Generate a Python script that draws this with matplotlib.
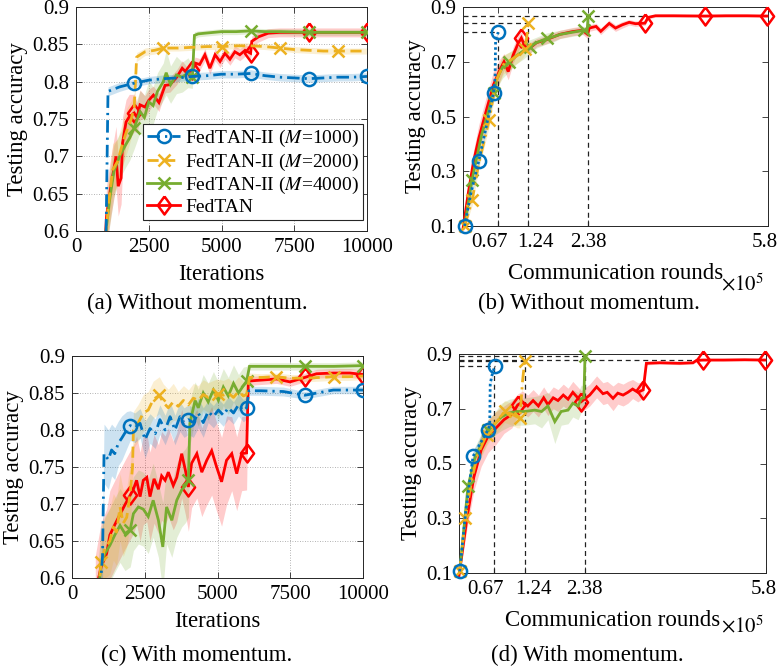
import numpy as np
import matplotlib
matplotlib.use("Agg")
import matplotlib.pyplot as plt
from matplotlib.transforms import ScaledTranslation

plt.rcParams['font.family'] = ['Liberation Serif', 'DejaVu Serif']
plt.rcParams['mathtext.fontset'] = 'stix'

# ---------------- colours / labels ----------------
C_BLUE, C_YEL, C_GRN, C_RED = '#0072BD', '#EDB120', '#77AC30', '#FF0000'
legend_labels = [r'FedTAN-II ($M$=1000)', r'FedTAN-II ($M$=2000)',
                 r'FedTAN-II ($M$=4000)', 'FedTAN']
captions = ['(a) Without momentum.', '(b) Without momentum.',
            '(c) With momentum.', '(d) With momentum.']

iter_ticks = [0, 2500, 5000, 7500, 10000]
acc_ticks_iter = [0.6, 0.65, 0.7, 0.75, 0.8, 0.85, 0.9]
acc_ticklabels_iter = ['0.6', '0.65', '0.7', '0.75', '0.8', '0.85', '0.9']
comm_ticks = [0.67, 1.24, 2.38, 5.8]
comm_ticklabels = ['0.67', '1.24', '2.38', '5.8']
acc_ticks_comm = [0.1, 0.3, 0.5, 0.7, 0.9]
acc_ticklabels_comm = ['0.1', '0.3', '0.5', '0.7', '0.9']

mark_even = [2000, 4000, 6000, 8000, 10000]
mark_odd = [1000, 3000, 5000, 7000, 9000]

# ---------------- panel (a): without momentum, vs iterations ----------------
a_blue_x = [1000, 1100, 1300, 1500, 2000, 2500, 3000, 3500, 4000, 4500, 5000, 5500, 6000, 6500, 7000, 7500, 8000, 8500, 9000, 9500, 10000]
a_blue_y = [0.50, 0.787, 0.790, 0.793, 0.798, 0.802, 0.804, 0.805, 0.807, 0.808, 0.810, 0.810, 0.811, 0.808, 0.806, 0.805, 0.804, 0.805, 0.806, 0.806, 0.807]
a_blue_s = [0.01, 0.006, 0.006, 0.006, 0.005, 0.005, 0.005, 0.005, 0.005, 0.005, 0.005, 0.005, 0.005, 0.005, 0.005, 0.005, 0.005, 0.005, 0.005, 0.005, 0.005]

a_yel_x = [1000, 1100, 1260, 1430, 1600, 1750, 1890, 2000, 2085, 2370, 2700, 3000, 3500, 4000, 4500, 5000, 5500, 6000, 6500, 7000, 7500, 8000, 8500, 9000, 9500, 10000]
a_yel_y = [0.57, 0.63, 0.682, 0.693, 0.717, 0.735, 0.749, 0.765, 0.833, 0.840, 0.842, 0.845, 0.845, 0.846, 0.847, 0.847, 0.848, 0.848, 0.847, 0.845, 0.843, 0.842, 0.841, 0.841, 0.841, 0.841]
a_yel_s = [0.03, 0.035, 0.035, 0.03, 0.03, 0.03, 0.025, 0.02, 0.006, 0.005, 0.005, 0.004, 0.004, 0.004, 0.004, 0.004, 0.004, 0.004, 0.004, 0.004, 0.004, 0.004, 0.004, 0.004, 0.004, 0.004]

a_grn_x = [1000, 1150, 1300, 1500, 1700, 1850, 2000, 2200, 2350, 2500, 2650, 2800, 3000, 3100, 3250, 3450, 3650, 3850, 4000, 4070, 4200, 4450, 5000, 5500, 6000, 6500, 7000, 8000, 9000, 10000]
a_grn_y = [0.59, 0.64, 0.68, 0.70, 0.715, 0.725, 0.738, 0.760, 0.752, 0.773, 0.768, 0.787, 0.800, 0.812, 0.796, 0.809, 0.806, 0.812, 0.806, 0.862, 0.864, 0.865, 0.867, 0.867, 0.868, 0.867, 0.867, 0.866, 0.866, 0.866]
a_grn_s = [0.03, 0.035, 0.035, 0.03, 0.03, 0.03, 0.028, 0.028, 0.03, 0.028, 0.025, 0.025, 0.025, 0.03, 0.025, 0.025, 0.02, 0.02, 0.015, 0.005, 0.004, 0.004, 0.004, 0.004, 0.004, 0.004, 0.004, 0.004, 0.004, 0.004]

a_red_x = [950, 1050, 1200, 1375, 1450, 1550, 1600, 1720, 1830, 2000, 2100, 2200, 2370, 2500, 2660, 2850, 3060, 3230, 3460, 3650, 3800, 4000, 4090, 4250, 4430, 4600, 4780, 4950, 5120, 5290, 5460, 5630, 5810, 6000, 6040, 6270, 6610, 7000, 8000, 9000, 10000]
a_red_y = [0.55, 0.62, 0.66, 0.70, 0.66, 0.671, 0.718, 0.746, 0.753, 0.758, 0.752, 0.769, 0.766, 0.775, 0.782, 0.772, 0.795, 0.796, 0.806, 0.818, 0.812, 0.815, 0.825, 0.823, 0.836, 0.818, 0.836, 0.827, 0.838, 0.830, 0.840, 0.836, 0.842, 0.838, 0.854, 0.860, 0.865, 0.866, 0.866, 0.866, 0.866]
a_red_s = [0.04, 0.04, 0.04, 0.04, 0.04, 0.035, 0.035, 0.03, 0.03, 0.025, 0.02, 0.02, 0.015, 0.015, 0.012, 0.012, 0.01, 0.01, 0.01, 0.01, 0.008, 0.008, 0.008, 0.008, 0.008, 0.008, 0.008, 0.008, 0.008, 0.008, 0.008, 0.008, 0.008, 0.008, 0.007, 0.007, 0.006, 0.006, 0.006, 0.006, 0.006]

# ---------------- panel (b): without momentum, vs communication rounds (x1e5) ----------------
b_blue_x = [0.03, 0.15, 0.30, 0.45, 0.58, 0.61, 0.62, 0.67]
b_blue_y = [0.10, 0.22, 0.338, 0.47, 0.585, 0.64, 0.78, 0.808]
b_blue_s = [0.01, 0.02, 0.02, 0.02, 0.02, 0.02, 0.01, 0.005]
b_blue_m = [0, 2, 4, 7]

b_yel_x = [0.03, 0.175, 0.3, 0.5, 0.58, 0.65, 0.77, 0.955, 1.12, 1.175, 1.22, 1.24]
b_yel_y = [0.10, 0.195, 0.33, 0.488, 0.58, 0.64, 0.69, 0.712, 0.735, 0.745, 0.80, 0.841]
b_yel_s = [0.01, 0.02, 0.02, 0.025, 0.03, 0.035, 0.035, 0.03, 0.025, 0.02, 0.01, 0.005]
b_yel_m = [0, 1, 3, 9, 11]

b_grn_x = [0.03, 0.17, 0.35, 0.58, 0.65, 0.75, 0.88, 1.0, 1.15, 1.27, 1.4, 1.59, 1.7, 1.85, 2.0, 2.15, 2.3, 2.36, 2.38]
b_grn_y = [0.10, 0.267, 0.43, 0.585, 0.64, 0.68, 0.70, 0.72, 0.74, 0.755, 0.77, 0.785, 0.79, 0.80, 0.805, 0.81, 0.815, 0.81, 0.868]
b_grn_s = [0.01, 0.02, 0.025, 0.03, 0.035, 0.04, 0.035, 0.03, 0.03, 0.025, 0.02, 0.02, 0.02, 0.015, 0.015, 0.015, 0.015, 0.015, 0.005]
b_grn_m = [1, 3, 6, 9, 11, 16, 18]

b_red_x = [0.0, 0.1, 0.2, 0.3, 0.42, 0.58, 0.7, 0.78, 0.86, 0.955, 1.05, 1.11, 1.175, 1.27, 1.4, 1.58, 1.84, 2.08, 2.27, 2.37, 2.4, 2.53, 2.62, 2.78, 2.9, 3.03, 3.16, 3.28, 3.46, 3.52, 3.66, 4.0, 4.6, 5.0, 5.4, 5.78]
b_red_y = [0.09, 0.22, 0.335, 0.42, 0.506, 0.616, 0.67, 0.70, 0.664, 0.725, 0.768, 0.787, 0.756, 0.75, 0.77, 0.78, 0.80, 0.81, 0.815, 0.80, 0.823, 0.829, 0.811, 0.84, 0.823, 0.835, 0.844, 0.839, 0.841, 0.862, 0.868, 0.868, 0.867, 0.868, 0.868, 0.867]
b_red_s = [0.01, 0.03, 0.04, 0.05, 0.05, 0.05, 0.04, 0.03, 0.03, 0.03, 0.03, 0.025, 0.02, 0.02, 0.015, 0.015, 0.015, 0.015, 0.015, 0.015, 0.012, 0.012, 0.012, 0.012, 0.012, 0.012, 0.01, 0.01, 0.008, 0.006, 0.005, 0.005, 0.005, 0.005, 0.005, 0.005]
b_red_m = [11, 28, 32, 35]

b_hline_y = [0.808, 0.841, 0.868]
b_hline_xend = [0.67, 1.24, 3.46]
b_vline_x = [0.67, 1.24, 2.38]
b_vline_ytop = [0.808, 0.841, 0.868]

# ---------------- panel (c): with momentum, vs iterations ----------------
c_blue_x = [900, 1050, 1100, 1250, 1360, 1470, 1590, 1710, 1880, 2000, 2160, 2340, 2510, 2680, 2860, 3020, 3200, 3370, 3540, 3710, 3850, 4000, 4170, 4340, 4510, 4680, 4860, 5030, 5200, 5370, 5550, 5720, 5890, 6000, 6080, 6500, 7260, 8000, 8980, 10000]
c_blue_y = [0.55, 0.63, 0.768, 0.76, 0.773, 0.768, 0.782, 0.789, 0.80, 0.806, 0.803, 0.809, 0.787, 0.802, 0.795, 0.814, 0.80, 0.818, 0.80, 0.818, 0.81, 0.814, 0.81, 0.823, 0.81, 0.825, 0.818, 0.827, 0.82, 0.83, 0.823, 0.834, 0.826, 0.830, 0.853, 0.853, 0.852, 0.847, 0.854, 0.854]
c_blue_s = [0.03, 0.03, 0.04, 0.04, 0.035, 0.035, 0.03, 0.03, 0.025, 0.02, 0.02, 0.02, 0.025, 0.02, 0.02, 0.02, 0.02, 0.02, 0.02, 0.02, 0.02, 0.02, 0.02, 0.02, 0.02, 0.015, 0.015, 0.015, 0.015, 0.015, 0.015, 0.015, 0.015, 0.015, 0.006, 0.006, 0.006, 0.005, 0.005, 0.005]

c_yel_x = [900, 1000, 1130, 1300, 1420, 1530, 1650, 1760, 1880, 2000, 2080, 2110, 2280, 2450, 2620, 2790, 3000, 3140, 3310, 3480, 3650, 3830, 4000, 4170, 4340, 4510, 4680, 4860, 5000, 5200, 5370, 5550, 5720, 5890, 6000, 6100, 6500, 7000, 7500, 8000, 8500, 9000, 9500, 10000]
c_yel_y = [0.58, 0.621, 0.64, 0.65, 0.669, 0.662, 0.696, 0.674, 0.682, 0.714, 0.75, 0.80, 0.81, 0.823, 0.827, 0.841, 0.847, 0.837, 0.83, 0.838, 0.832, 0.84, 0.834, 0.843, 0.84, 0.848, 0.844, 0.847, 0.849, 0.847, 0.85, 0.844, 0.852, 0.846, 0.848, 0.871, 0.871, 0.872, 0.870, 0.870, 0.871, 0.872, 0.872, 0.873]
c_yel_s = [0.04, 0.04, 0.04, 0.045, 0.045, 0.045, 0.045, 0.045, 0.04, 0.04, 0.03, 0.025, 0.025, 0.025, 0.025, 0.025, 0.025, 0.025, 0.025, 0.025, 0.02, 0.02, 0.02, 0.02, 0.02, 0.02, 0.02, 0.02, 0.02, 0.02, 0.02, 0.02, 0.02, 0.02, 0.02, 0.006, 0.005, 0.005, 0.005, 0.005, 0.005, 0.005, 0.005, 0.005]

c_grn_x = [900, 1000, 1130, 1300, 1470, 1650, 1820, 2000, 2110, 2280, 2450, 2620, 2790, 2970, 3120, 3250, 3430, 3600, 3770, 3900, 4000, 4050, 4230, 4340, 4510, 4680, 4860, 5030, 5200, 5370, 5550, 5720, 5890, 6000, 6100, 7000, 8000, 9000, 10000]
c_grn_y = [0.58, 0.62, 0.633, 0.644, 0.658, 0.671, 0.66, 0.665, 0.687, 0.696, 0.693, 0.683, 0.705, 0.678, 0.642, 0.696, 0.678, 0.705, 0.719, 0.725, 0.732, 0.809, 0.84, 0.83, 0.85, 0.838, 0.854, 0.84, 0.858, 0.846, 0.863, 0.85, 0.86, 0.866, 0.886, 0.886, 0.886, 0.886, 0.887]
c_grn_s = [0.04, 0.05, 0.05, 0.05, 0.05, 0.05, 0.05, 0.05, 0.05, 0.05, 0.05, 0.05, 0.05, 0.05, 0.06, 0.05, 0.05, 0.05, 0.05, 0.05, 0.05, 0.03, 0.025, 0.025, 0.025, 0.025, 0.025, 0.025, 0.025, 0.025, 0.025, 0.025, 0.025, 0.02, 0.005, 0.005, 0.005, 0.005, 0.005]

c_red_x = [800, 1000, 1190, 1300, 1470, 1650, 1820, 2000, 2110, 2220, 2340, 2450, 2570, 2680, 2820, 2970, 3080, 3200, 3310, 3480, 3600, 3770, 3900, 4000, 4110, 4290, 4460, 4630, 4800, 4970, 5140, 5310, 5490, 5660, 5830, 6000, 6060, 6340, 7030, 7490, 8000, 8400, 8980, 9550, 10000]
c_red_y = [0.58, 0.615, 0.633, 0.658, 0.672, 0.686, 0.699, 0.712, 0.72, 0.732, 0.71, 0.732, 0.736, 0.71, 0.734, 0.72, 0.738, 0.732, 0.743, 0.725, 0.736, 0.768, 0.745, 0.723, 0.755, 0.768, 0.743, 0.759, 0.772, 0.75, 0.73, 0.759, 0.768, 0.741, 0.768, 0.769, 0.866, 0.867, 0.869, 0.865, 0.871, 0.876, 0.877, 0.877, 0.875]
c_red_s = [0.05, 0.06, 0.06, 0.06, 0.06, 0.06, 0.06, 0.06, 0.06, 0.06, 0.06, 0.06, 0.06, 0.06, 0.06, 0.06, 0.06, 0.06, 0.06, 0.06, 0.06, 0.06, 0.06, 0.06, 0.06, 0.06, 0.06, 0.06, 0.06, 0.06, 0.06, 0.06, 0.05, 0.05, 0.05, 0.05, 0.006, 0.006, 0.006, 0.006, 0.006, 0.006, 0.006, 0.006, 0.006]

# ---------------- panel (d): with momentum, vs communication rounds (x1e5) ----------------
d_blue_x = [0.013, 0.13, 0.265, 0.42, 0.55, 0.58, 0.59, 0.62, 0.675]
d_blue_y = [0.106, 0.33, 0.526, 0.58, 0.623, 0.64, 0.79, 0.82, 0.856]
d_blue_s = [0.01, 0.02, 0.02, 0.02, 0.02, 0.01, 0.01, 0.01, 0.005]
d_blue_m = [0, 2, 4, 8]

d_yel_x = [0.013, 0.12, 0.25, 0.35, 0.52, 0.65, 0.75, 0.86, 1.0, 1.1, 1.15, 1.2, 1.24]
d_yel_y = [0.106, 0.30, 0.45, 0.53, 0.605, 0.64, 0.66, 0.69, 0.68, 0.67, 0.665, 0.80, 0.874]
d_yel_s = [0.01, 0.02, 0.03, 0.035, 0.04, 0.04, 0.04, 0.04, 0.04, 0.04, 0.035, 0.01, 0.005]
d_yel_m = [0, 1, 4, 7, 10, 12]

d_grn_x = [0.013, 0.17, 0.3, 0.55, 0.65, 0.8, 0.95, 1.1, 1.24, 1.43, 1.56, 1.68, 1.81, 1.93, 2.06, 2.15, 2.25, 2.31, 2.36, 2.38]
d_grn_y = [0.106, 0.416, 0.52, 0.623, 0.64, 0.67, 0.685, 0.69, 0.69, 0.695, 0.69, 0.71, 0.653, 0.69, 0.695, 0.72, 0.71, 0.737, 0.74, 0.892]
d_grn_s = [0.01, 0.03, 0.04, 0.04, 0.04, 0.05, 0.05, 0.05, 0.05, 0.05, 0.06, 0.05, 0.08, 0.05, 0.05, 0.05, 0.05, 0.05, 0.04, 0.005]
d_grn_m = [1, 3, 19]

d_red_x = [0.0, 0.15, 0.28, 0.42, 0.55, 0.7, 0.85, 1.0, 1.11, 1.2, 1.3, 1.4, 1.5, 1.6, 1.68, 1.78, 1.87, 1.97, 2.06, 2.15, 2.31, 2.47, 2.6, 2.72, 2.8, 2.91, 3.0, 3.1, 3.19, 3.28, 3.38, 3.48, 3.54, 3.79, 4.17, 4.42, 4.49, 4.61, 5.0, 5.4, 5.78]
d_red_y = [0.09, 0.30, 0.45, 0.55, 0.60, 0.63, 0.66, 0.68, 0.714, 0.725, 0.71, 0.73, 0.71, 0.74, 0.715, 0.74, 0.73, 0.75, 0.735, 0.76, 0.726, 0.75, 0.78, 0.755, 0.76, 0.738, 0.757, 0.75, 0.76, 0.772, 0.76, 0.769, 0.866, 0.868, 0.866, 0.868, 0.877, 0.878, 0.878, 0.879, 0.878]
d_red_s = [0.01, 0.04, 0.05, 0.06, 0.06, 0.06, 0.05, 0.05, 0.04, 0.04, 0.04, 0.04, 0.04, 0.04, 0.04, 0.04, 0.04, 0.04, 0.04, 0.04, 0.04, 0.04, 0.04, 0.04, 0.04, 0.045, 0.04, 0.04, 0.04, 0.035, 0.035, 0.03, 0.006, 0.005, 0.005, 0.005, 0.005, 0.004, 0.004, 0.004, 0.004]
d_red_m = [8, 20, 31, 37, 40]

d_hline_y = [0.856, 0.874, 0.879, 0.892]
d_hline_xend = [0.675, 1.24, 4.61, 2.38]
d_vline_x = [0.67, 1.24, 2.38]
d_vline_ytop = [0.856, 0.874, 0.892]

# ---------------- styling helpers ----------------
DIAMOND = [(0, 1), (0.73, 0), (0, -1), (-0.73, 0), (0, 1)]
LW = 2.0
DASHDOT = (4.5, 1.8, 0.8, 1.8)
DASHED = (4.0, 2.0)
DOTTED = (0.9, 1.0)


def band(ax, x, y, s, color, alpha=0.2):
    y = np.asarray(y, float)
    s = np.asarray(s, float)
    ax.fill_between(x, y - s, y + s, color=color, alpha=alpha, lw=0, zorder=1)


def curve(ax, x, y, color, dashes, marker, mk, ms, z, label=None, clip=True):
    ln, = ax.plot(x, y, color=color, lw=LW, marker=marker, markevery=mk,
                  ms=ms, mfc='none', mec=color, mew=1.8, zorder=z, label=label,
                  solid_joinstyle='miter', clip_on=clip)
    if dashes is not None:
        ln.set_dashes(dashes)
    return ln


def idx(x, marks):
    return [x.index(v) for v in marks if v in x]


def style_axes(ax, grid):
    for sp in ax.spines.values():
        sp.set_linewidth(0.7)
        sp.set_color('#262626')
    ax.tick_params(direction='in', top=True, right=True, length=4,
                   width=0.6, color='#262626', labelsize=15, pad=5)
    if grid:
        ax.grid(True, ls=(0, (1, 2)), color='#9a9a9a', lw=0.6)
        ax.set_axisbelow(True)


def shift_xlabels(fig, ax, offsets_px):
    for lab, dx in zip(ax.get_xticklabels(), offsets_px):
        lab.set_transform(lab.get_transform() +
                          ScaledTranslation(dx / fig.dpi, 0, fig.dpi_scale_trans))


fig = plt.figure(figsize=(7.8, 6.7), dpi=100)

# ---- (a)
ax = fig.add_axes([76 / 780, 1 - 231 / 670, 291 / 780, 224 / 670])
band(ax, a_red_x, a_red_y, a_red_s, C_RED)
band(ax, a_grn_x, a_grn_y, a_grn_s, C_GRN)
band(ax, a_yel_x, a_yel_y, a_yel_s, C_YEL)
band(ax, a_blue_x, a_blue_y, a_blue_s, C_BLUE)
h4 = curve(ax, a_red_x, a_red_y, C_RED, None, DIAMOND, idx(a_red_x, mark_even), 13, 3, legend_labels[3])
h3 = curve(ax, a_grn_x, a_grn_y, C_GRN, None, 'x', idx(a_grn_x, mark_even), 8.5, 4, legend_labels[2])
h2 = curve(ax, a_yel_x, a_yel_y, C_YEL, DASHED, 'x', idx(a_yel_x, mark_odd), 8.5, 5, legend_labels[1])
h1 = curve(ax, a_blue_x, a_blue_y, C_BLUE, DASHDOT, 'o', idx(a_blue_x, mark_even), 9.5, 6, legend_labels[0])
ax.set_xlim(0, 10000)
ax.set_ylim(0.6, 0.9)
ax.set_xticks(iter_ticks)
ax.set_xticklabels([str(t) for t in iter_ticks])
ax.set_yticks(acc_ticks_iter)
ax.set_yticklabels(acc_ticklabels_iter)
style_axes(ax, True)
ax.set_xlabel('Iterations', fontsize=16.5, labelpad=5)
ax.set_ylabel('Testing accuracy', fontsize=16.5, labelpad=3)
leg = ax.legend(handles=[h1, h2, h3, h4], loc='lower right',
                bbox_to_anchor=(0.985, 0.05), fontsize=14, frameon=True,
                fancybox=False, edgecolor='#262626', framealpha=1,
                handlelength=1.7, handletextpad=0.25, labelspacing=0.12,
                borderpad=0.2, borderaxespad=0)
leg.get_frame().set_linewidth(0.8)

# ---- (b)
ax = fig.add_axes([463 / 780, 1 - 226 / 670, 305 / 780, 219 / 670])
band(ax, b_red_x, b_red_y, b_red_s, C_RED)
band(ax, b_grn_x, b_grn_y, b_grn_s, C_GRN)
band(ax, b_yel_x, b_yel_y, b_yel_s, C_YEL)
band(ax, b_blue_x, b_blue_y, b_blue_s, C_BLUE)
for yv, xe in zip(b_hline_y, b_hline_xend):
    ax.plot([0, xe], [yv, yv], color='#222222', lw=0.9, dashes=(4, 3), zorder=2)
for xv, yt in zip(b_vline_x, b_vline_ytop):
    ax.plot([xv, xv], [0.1, yt], color='#222222', lw=0.9, dashes=(4, 3), zorder=2)
curve(ax, b_red_x, b_red_y, C_RED, None, DIAMOND, b_red_m, 13, 3, clip=False)
curve(ax, b_grn_x, b_grn_y, C_GRN, None, 'x', b_grn_m, 8.5, 4, clip=False)
curve(ax, b_yel_x, b_yel_y, C_YEL, DASHDOT, 'x', b_yel_m, 8.5, 5, clip=False)
curve(ax, b_blue_x, b_blue_y, C_BLUE, DOTTED, 'o', b_blue_m, 9.5, 6, clip=False)
ax.set_xlim(0, 5.8)
ax.set_ylim(0.1, 0.9)
ax.set_xticks(comm_ticks)
ax.set_xticklabels(comm_ticklabels)
ax.set_yticks(acc_ticks_comm)
ax.set_yticklabels(acc_ticklabels_comm)
style_axes(ax, False)
shift_xlabels(fig, ax, [-9, 7, 0, -3])
ax.set_xlabel('Communication rounds', fontsize=16.5, labelpad=8)
ax.set_ylabel('Testing accuracy', fontsize=16.5, labelpad=3)
fig.text(721 / 780, 1 - 290 / 670, r'$\times10^5$', fontsize=15, ha='left', va='baseline')

# ---- (c)
ax = fig.add_axes([72 / 780, 1 - 578 / 670, 291 / 780, 222 / 670])
band(ax, c_red_x, c_red_y, c_red_s, C_RED)
band(ax, c_grn_x, c_grn_y, c_grn_s, C_GRN)
band(ax, c_yel_x, c_yel_y, c_yel_s, C_YEL)
band(ax, c_blue_x, c_blue_y, c_blue_s, C_BLUE)
curve(ax, c_red_x, c_red_y, C_RED, None, DIAMOND, idx(c_red_x, mark_even), 13, 3)
curve(ax, c_grn_x, c_grn_y, C_GRN, None, 'x', idx(c_grn_x, mark_even), 8.5, 4)
curve(ax, c_yel_x, c_yel_y, C_YEL, DASHED, 'x', idx(c_yel_x, mark_odd), 8.5, 5)
curve(ax, c_blue_x, c_blue_y, C_BLUE, DASHDOT, 'o', idx(c_blue_x, mark_even), 9.5, 6)
ax.set_xlim(0, 10000)
ax.set_ylim(0.6, 0.9)
ax.set_xticks(iter_ticks)
ax.set_xticklabels([str(t) for t in iter_ticks])
ax.set_yticks(acc_ticks_iter)
ax.set_yticklabels(acc_ticklabels_iter)
style_axes(ax, True)
ax.set_xlabel('Iterations', fontsize=16.5, labelpad=5)
ax.set_ylabel('Testing accuracy', fontsize=16.5, labelpad=3)

# ---- (d)
ax = fig.add_axes([459 / 780, 1 - 573 / 670, 307 / 780, 219 / 670])
band(ax, d_red_x, d_red_y, d_red_s, C_RED)
band(ax, d_grn_x, d_grn_y, d_grn_s, C_GRN)
band(ax, d_yel_x, d_yel_y, d_yel_s, C_YEL)
band(ax, d_blue_x, d_blue_y, d_blue_s, C_BLUE)
for yv, xe in zip(d_hline_y, d_hline_xend):
    ax.plot([0, xe], [yv, yv], color='#222222', lw=0.9, dashes=(4, 3), zorder=2)
for xv, yt in zip(d_vline_x, d_vline_ytop):
    ax.plot([xv, xv], [0.1, yt], color='#222222', lw=0.9, dashes=(4, 3), zorder=2)
curve(ax, d_red_x, d_red_y, C_RED, None, DIAMOND, d_red_m, 13, 3, clip=False)
curve(ax, d_grn_x, d_grn_y, C_GRN, None, 'x', d_grn_m, 8.5, 4, clip=False)
curve(ax, d_yel_x, d_yel_y, C_YEL, DASHDOT, 'x', d_yel_m, 8.5, 5, clip=False)
curve(ax, d_blue_x, d_blue_y, C_BLUE, DOTTED, 'o', d_blue_m, 9.5, 6, clip=False)
ax.set_xlim(0, 5.8)
ax.set_ylim(0.1, 0.9)
ax.set_xticks(comm_ticks)
ax.set_xticklabels(comm_ticklabels)
ax.set_yticks(acc_ticks_comm)
ax.set_yticklabels(acc_ticklabels_comm)
style_axes(ax, False)
shift_xlabels(fig, ax, [-9, 9, -1, -2])
ax.set_xlabel('Communication rounds', fontsize=16.5, labelpad=8)
ax.set_ylabel('Testing accuracy', fontsize=16.5, labelpad=3)
fig.text(721 / 780, 1 - 632 / 670, r'$\times10^5$', fontsize=15, ha='left', va='baseline')

# ---- captions
fig.text(197 / 780, 1 - 303 / 670, captions[0], fontsize=16.5, ha='center', va='center')
fig.text(589 / 780, 1 - 303 / 670, captions[1], fontsize=16.5, ha='center', va='center')
fig.text(197 / 780, 1 - 655 / 670, captions[2], fontsize=16.5, ha='center', va='center')
fig.text(587 / 780, 1 - 655 / 670, captions[3], fontsize=16.5, ha='center', va='center')

fig.savefig('out.png', dpi=100)
